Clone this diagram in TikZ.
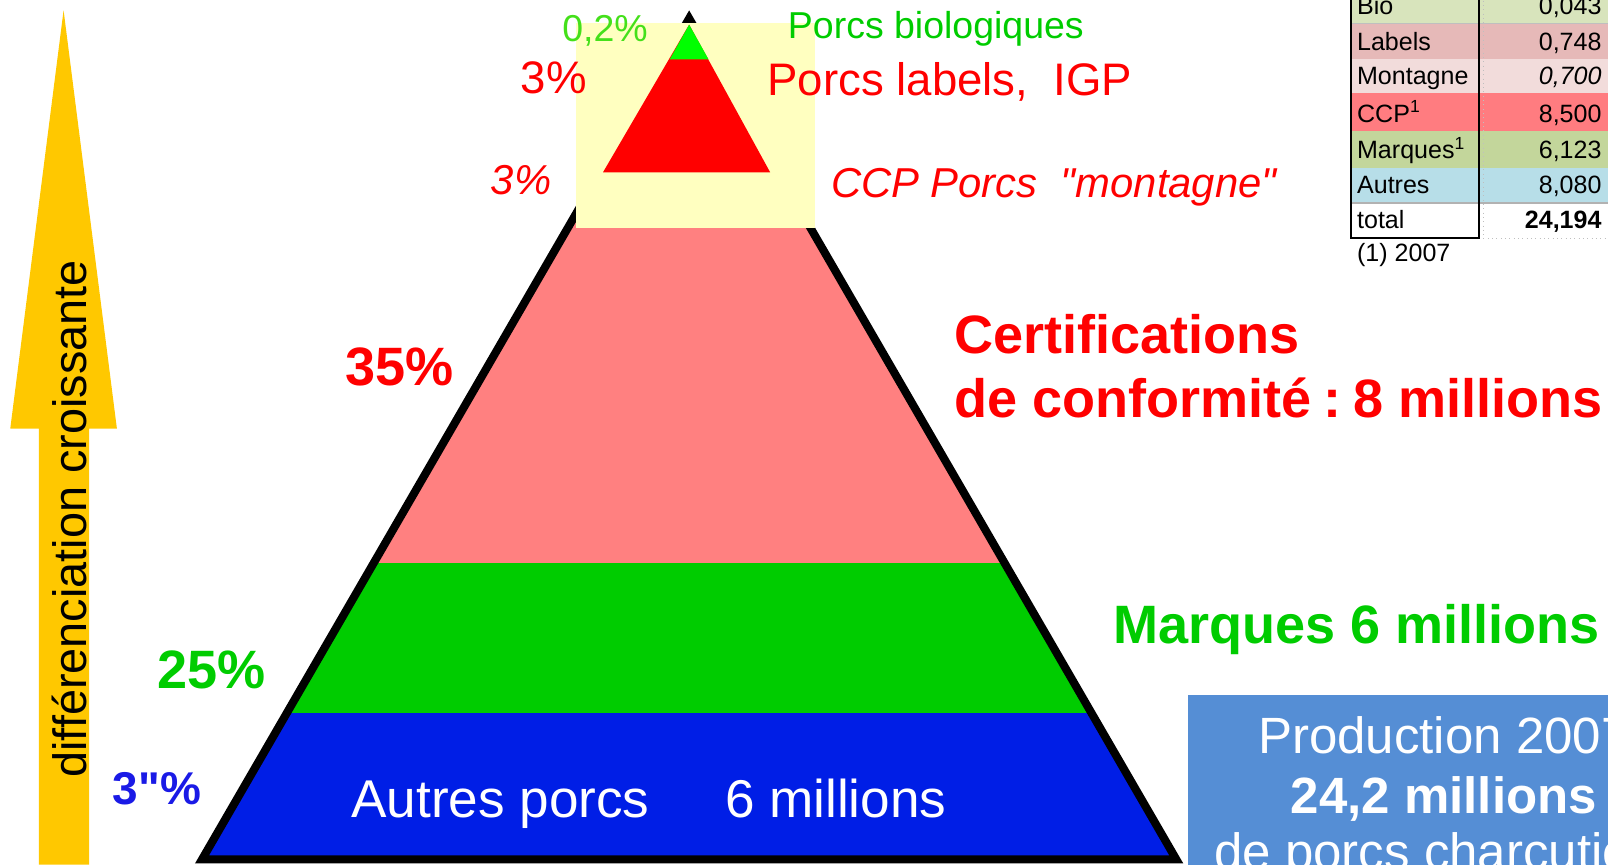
\documentclass[tikz,border=0pt]{standalone}
\usepackage{fontspec}
\setmainfont{Liberation Sans}[Ligatures=TeXOff]
\usetikzlibrary{positioning}

\definecolor{pinkband}{HTML}{FF8080}
\definecolor{greenband}{HTML}{00CC00}
\definecolor{blueband}{HTML}{001EE6}
\definecolor{topgreen}{HTML}{00FF00}
\definecolor{limegreen}{HTML}{44E01A}
\definecolor{paleyellow}{HTML}{FFFFC0}
\definecolor{arrowyellow}{HTML}{FFC800}
\definecolor{boxblue}{HTML}{558ED5}
\definecolor{pctblue}{HTML}{1A1AE6}
\definecolor{bioC}{HTML}{D8E4BC}
\definecolor{labelsC}{HTML}{E6B9B8}
\definecolor{montC}{HTML}{F2DCDB}
\definecolor{ccpC}{HTML}{FF7C80}
\definecolor{marqC}{HTML}{C3D69B}
\definecolor{autresC}{HTML}{B7DEE8}

\begin{document}
\begin{tikzpicture}[x=0.02cm,y=-0.02cm,every node/.style={inner sep=0pt},
                big label/.style={font=\fontsize{30}{34}\selectfont\bfseries},
                mid label/.style={font=\fontsize{25.3}{29}\selectfont},
                small label/.style={font=\fontsize{20.8}{24}\selectfont},
                table text/.style={font=\fontsize{13.9}{16}\selectfont},
                box text/.style={font=\fontsize{28.3}{32}\selectfont,text=white}]
  \useasboundingbox (0,0) rectangle (1568,843);
  \clip (0,0) rectangle (1568,843);

  % yellow arrow
  \fill[arrowyellow] (38,843) -- (38,418) -- (10,418) -- (62,10)
        -- (114,418) -- (87,418) -- (87,843) -- cycle;
  \node[rotate=90,font=\fontsize{26}{30}\selectfont] (arrowtext) at (68,506)
        {différenciation croissante};

  % big pyramid
  \begin{scope}
    \clip (672,18) -- (1147,838) -- (197,838) -- cycle;
    \fill[pinkband] (0,150) rectangle (1568,549);
    \fill[greenband] (0,549) rectangle (1568,695);
    \fill[blueband] (0,695) rectangle (1568,843);
  \end{scope}
  \draw[line width=4.5pt] (672,18) -- (1147,838) -- (197,838) -- cycle;

  % top part
  \fill[paleyellow] (562,22) rectangle (795,222);
  \fill[red] (672,24) -- (751,168) -- (588,168) -- cycle;
  \fill[topgreen] (672,24) -- (691,58) -- (653,58) -- cycle;

  \node[small label,text=limegreen,anchor=base] (bioPct) at (590,40) {0,2\%};
  \node[small label,text=greenband,anchor=base west] (bioTxt) at (768,38) {Porcs biologiques};
  \node[mid label,text=red,anchor=base] (labPct) at (540,91) {3\%};
  \node[mid label,text=red,anchor=base west] (labTxt) at (748,93) {Porcs labels,\ \ IGP};
  \node[font=\fontsize{23.2}{27}\selectfont\itshape,text=red,anchor=base] (montPct) at (508,190) {3\%};
  \node[font=\fontsize{23.2}{27}\selectfont\itshape,text=red,anchor=base west] (montTxt)
        at (810,193) {CCP Porcs\ \ "montagne"};

  % bands
  \node[big label,text=red,anchor=base] (ccpPct) at (390,376) {35\%};
  \node[big label,text=red,anchor=base west] (ccpTxt) at (930,345) {Certifications};
  \node[big label,text=red,anchor=base west] (ccpTxt2) at (930,407)
        {de conformité\hspace{0.22em}:\hspace{0.22em}8 millions};
  \node[big label,text=greenband,anchor=base] (marqPct) at (206,671) {25\%};
  \node[big label,text=greenband,anchor=base west] (marqTxt) at (1085,627) {Marques 6 millions};
  \node[font=\fontsize{25.5}{29}\selectfont\bfseries,text=pctblue,anchor=base] (autPct)
        at (153,784) {3"\%};
  \node[font=\fontsize{29.5}{33}\selectfont,text=white,anchor=base] (autTxt) at (488,797) {Autres porcs};
  \node[font=\fontsize{29.5}{33}\selectfont,text=white,anchor=base] (autNum) at (815,797) {6 millions};

  % production box
  \fill[boxblue] (1158,678) rectangle (1660,860);
  \node[box text,anchor=base] (prod1) at (1408,735) {Production 2007};
  \node[box text,anchor=base,font=\fontsize{28.3}{32}\selectfont\bfseries] (prod2) at (1408,793) {24,2 millions};
  \node[box text,anchor=base] (prod3) at (1408,848) {de porcs charcutiers};

  % table
  \foreach \n/\ya/\yb/\lab/\val/\col in {1/-12/23/Bio/{0,043}/bioC,
        2/23/58/Labels/{0,748}/labelsC,
        3/58/91/Montagne/{\itshape 0,700}/montC,
        4/91/128/CCP\textsuperscript{1}/{8,500}/ccpC,
        5/128/164/Marques\textsuperscript{1}/{6,123}/marqC,
        6/164/198/Autres/{8,080}/autresC} {
    \fill[\col] (1317,\ya) rectangle (1568,\yb);
    \draw[gray!50,line width=0.4pt] (1317,\yb) -- (1568,\yb);
    \node[table text,anchor=base west] (lab\n) at (1323,\yb-9) {\lab};
    \node[table text,anchor=base east] (val\n) at (1562,\yb-9) {\val};
  }
  \node[table text,anchor=base west] (lab7) at (1323,223) {total};
  \node[table text,anchor=base east,font=\fontsize{13.9}{16}\selectfont\bfseries] (val7) at (1562,223) {24,194};
  \draw[gray!60,line width=1.4pt] (1317,198) -- (1568,198);
  \draw[gray!50,dotted] (1446,-12) -- (1446,232) -- (1568,232);
  \draw[line width=1.2pt] (1317,-12) -- (1317,232) -- (1442,232) -- (1442,-12);
  \node[table text,anchor=base west] (note) at (1323,255) {(1) 2007};
\end{tikzpicture}
\end{document}
